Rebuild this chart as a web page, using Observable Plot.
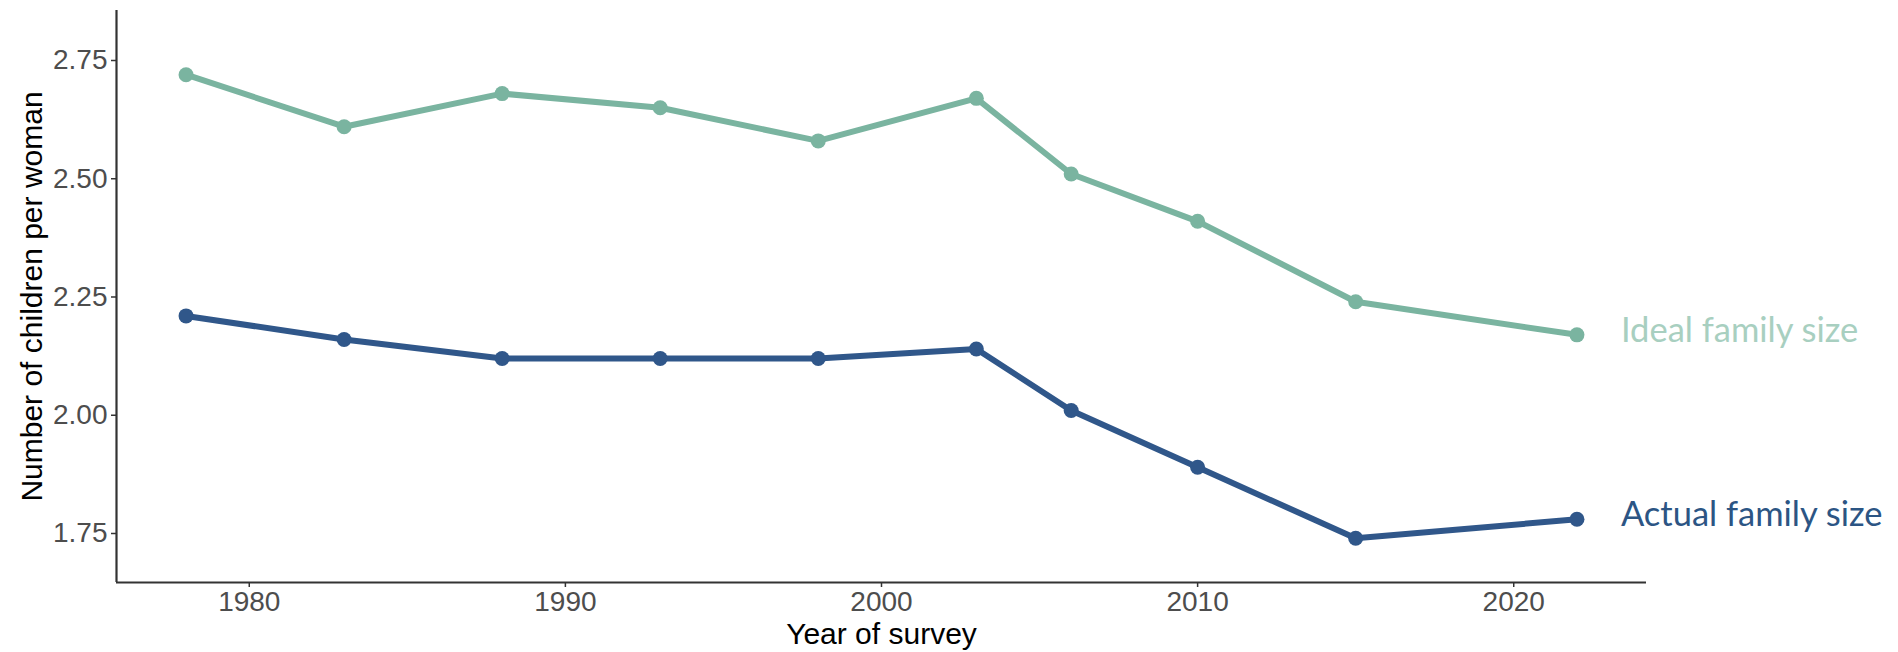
<!DOCTYPE html>
<html>
<head>
<meta charset="utf-8">
<script src="https://cdn.jsdelivr.net/npm/d3@7"></script>
<script src="https://cdn.jsdelivr.net/npm/@observablehq/plot@0.6"></script>
<style>
  html, body { margin: 0; padding: 0; background: #fff; }
  #chart svg { display: block; }
</style>
</head>
<body>
<div id="chart"></div>
<script>
const years = [1978, 1983, 1988, 1993, 1998, 2003, 2006, 2010, 2015, 2022];
const idealSize = [2.72, 2.61, 2.68, 2.65, 2.58, 2.67, 2.51, 2.41, 2.24, 2.17];
const actualSize = [2.21, 2.16, 2.12, 2.12, 2.12, 2.14, 2.01, 1.89, 1.74, 1.78];
const seriesNames = ["Ideal family size", "Actual family size"];
const yTicks = [1.75, 2.00, 2.25, 2.50, 2.75];
const xTicks = [1980, 1990, 2000, 2010, 2020];
const xTitle = "Year of survey";
const yTitle = "Number of children per woman";

const lineColors = {"Ideal family size": "#7AB4A0", "Actual family size": "#30578A"};
const labelColors = {"Ideal family size": "#A8CFC0", "Actual family size": "#2C5584"};

const rows = [];
years.forEach((yr, i) => {
  rows.push({year: yr, value: idealSize[i], series: seriesNames[0]});
  rows.push({year: yr, value: actualSize[i], series: seriesNames[1]});
});
const lastRows = seriesNames.map(s => rows.filter(r => r.series === s).at(-1));

const xDomain = [1975.8, 2024.2];
const yDomain = [1.6464, 2.8557];

const chart = Plot.plot({
  width: 1898,
  height: 652,
  marginLeft: 116,
  marginRight: 252,
  marginTop: 10,
  marginBottom: 70,
  style: {fontFamily: "'Liberation Sans', Arial, sans-serif", background: "#fff"},
  x: {domain: xDomain},
  y: {domain: yDomain},
  marks: [
    Plot.axisX({ticks: xTicks, tickFormat: d => String(d), tickSize: 5, tickPadding: 4,
      fontSize: 28, color: "#4D4D4D", stroke: "#333", strokeWidth: 1.5, label: null}),
    Plot.axisY({ticks: yTicks, tickFormat: d => d.toFixed(2), tickSize: 5, tickPadding: 4,
      fontSize: 28, color: "#4D4D4D", stroke: "#333", strokeWidth: 1.5, label: null}),
    Plot.ruleY([yDomain[0]], {stroke: "#333", strokeWidth: 2.2}),
    Plot.ruleX([xDomain[0]], {stroke: "#333", strokeWidth: 2.2}),
    Plot.line(rows, {x: "year", y: "value", z: "series",
      stroke: d => lineColors[d.series], strokeWidth: 6, strokeLinejoin: "round"}),
    Plot.dot(rows, {x: "year", y: "value", r: 7.5,
      fill: d => lineColors[d.series], stroke: "none"}),
    Plot.text(lastRows, {x: "year", y: "value", text: "series", dx: 44, dy: -4,
      textAnchor: "start", fill: d => labelColors[d.series], fontSize: 34.5,
      fontFamily: "Lato, 'Open Sans', sans-serif"}),
    Plot.text([xTitle], {frameAnchor: "bottom", dy: 52, fontSize: 30, fill: "#000",
      lineAnchor: "middle", textAnchor: "middle"}),
    Plot.text([yTitle], {frameAnchor: "left", dx: -84, rotate: -90, fontSize: 30,
      fill: "#000", lineAnchor: "middle", textAnchor: "middle"})
  ]
});
document.getElementById("chart").appendChild(chart);
</script>
</body>
</html>
